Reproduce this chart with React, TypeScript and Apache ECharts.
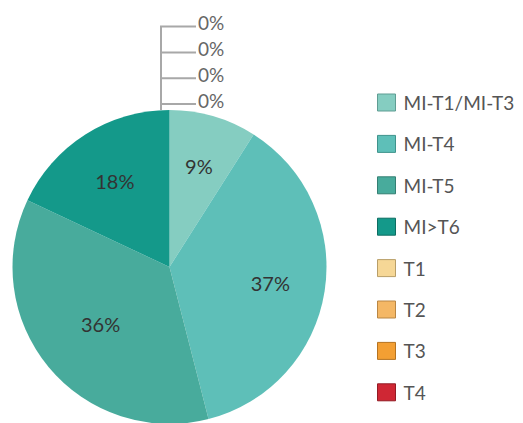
import React, { useEffect, useRef } from "react";
import * as echarts from "echarts";

const categories = ["MI-T1/MI-T3", "MI-T4", "MI-T5", "MI>T6", "T1", "T2", "T3", "T4"];
const values = [9, 37, 36, 18, 0, 0, 0, 0];
const colors = ["#85cdc1", "#5ebfb8", "#48ab9c", "#14998a", "#f6d796", "#f4b765", "#f39f33", "#cf2734"];
const borderColors = ["#5f9d93", "#3f938c", "#347f73", "#0d6d62", "#b89e68", "#b98644", "#b57320", "#931b24"];

const CENTER: [number, number] = [169.5, 267];
const RADIUS = 157;
const INSIDE_RATIO = [0.67, 0.65, 0.57, 0.65];
const FONT = "Lato, 'Open Sans', sans-serif";

export default function App() {
  const ref = useRef<HTMLDivElement>(null);
  useEffect(() => {
    document.body.style.margin = "0";
    if (!ref.current) return;
    const chart = echarts.init(ref.current, undefined, { renderer: "svg" });
    const total = values.reduce((a, b) => a + b, 0);
    const zeroIdx = values.map((v, i) => (v === 0 ? i : -1)).filter((i) => i >= 0);
    const pieTop = CENTER[1] - RADIUS;
    const lineX = CENTER[0] - 8.5;

    const data = categories.map((name, i) => {
      const zero = values[i] === 0;
      return {
        name,
        value: values[i],
        itemStyle: { color: colors[i] },
        label: zero
          ? { show: true, position: "outside", fontSize: 19, color: "#666", fontFamily: FONT }
          : { show: true, position: "inside", fontSize: 20, color: "#333", fontFamily: FONT },
        labelLine: zero
          ? { show: true, lineStyle: { color: "#a8a8a8", width: 2 } }
          : { show: false },
      };
    });

    chart.setOption({
      animation: false,
      backgroundColor: "#fff",
      legend: {
        orient: "vertical",
        left: 372,
        top: 88,
        itemWidth: 18,
        itemHeight: 17,
        itemGap: 22.4,
        icon: "rect",
        selectedMode: false,
        textStyle: { fontSize: 19, color: "#555", fontFamily: FONT, padding: [0, 0, 0, 3] },
        data: categories.map((name, i) => ({
          name,
          itemStyle: { color: colors[i], borderColor: borderColors[i], borderWidth: 1 },
        })),
      },
      series: [
        {
          type: "pie",
          center: CENTER,
          radius: [0, RADIUS],
          startAngle: 90,
          clockwise: true,
          avoidLabelOverlap: false,
          silent: true,
          label: {
            formatter: (p: any) => `${Math.round(p.percent)}%`,
          },
          labelLayout: (params: any) => {
            const i = params.dataIndex;
            if (values[i] > 0) {
              let before = 0;
              for (let k = 0; k < i; k++) before += values[k];
              const mid = ((before + values[i] / 2) / total) * Math.PI * 2;
              const r = RADIUS * INSIDE_RATIO[i];
              return {
                x: CENTER[0] + r * Math.sin(mid),
                y: CENTER[1] - r * Math.cos(mid),
                align: "center",
                verticalAlign: "middle",
              };
            }
            const j = zeroIdx.indexOf(i);
            const ly = pieTop - 6 - (zeroIdx.length - 1 - j) * 25.8;
            return {
              x: lineX + 37,
              y: ly - 4,
              align: "left",
              verticalAlign: "middle",
              labelLinePoints: [
                [lineX, pieTop],
                [lineX, ly],
                [lineX + 35, ly],
              ],
            };
          },
          data,
        },
      ],
    });
    return () => chart.dispose();
  }, []);
  return <div ref={ref} style={{ width: 523, height: 423, position: "fixed", left: 0, top: 0 }} />;
}
